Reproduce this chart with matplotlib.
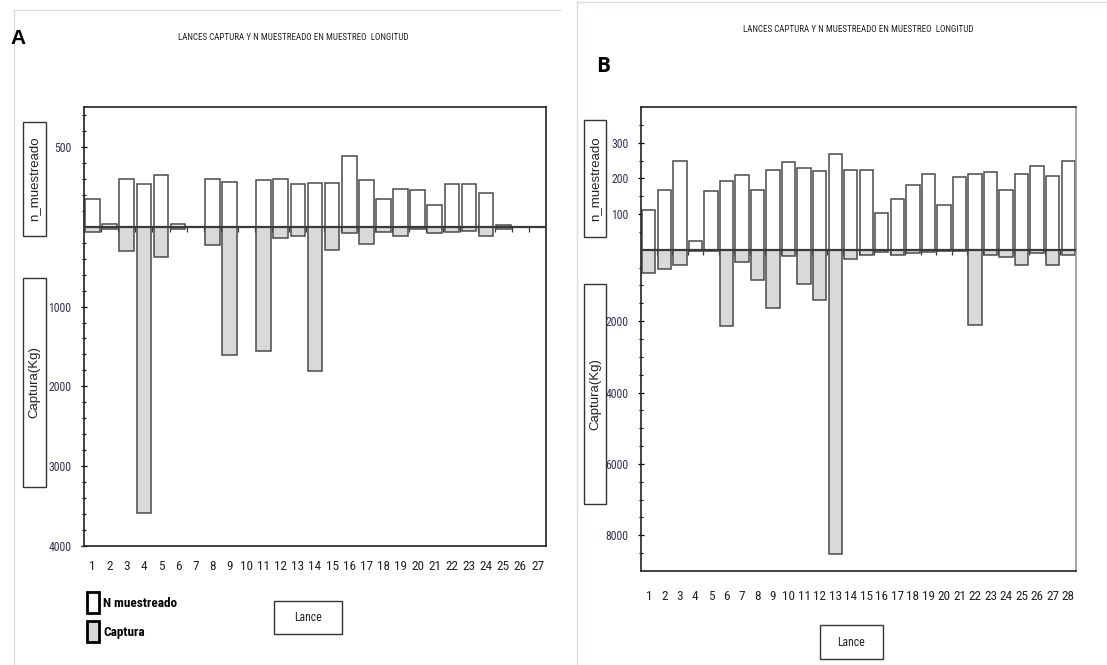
import numpy as np
import matplotlib
matplotlib.use("Agg")
import matplotlib.pyplot as plt
from matplotlib.patches import Rectangle, Patch
from matplotlib.lines import Line2D

NARROW = ['Liberation Sans Narrow', 'Roboto Condensed', 'Liberation Sans', 'DejaVu Sans']
plt.rcParams['font.family'] = NARROW

# ---- data ----
lance_a = np.arange(1, 28)
n_a = [174, 15, 298, 266, 326, 15, 0, 298, 283, 0, 291, 298, 266, 277, 277,
       443, 291, 174, 238, 230, 136, 266, 266, 213, 9, 0, 0]
cap_a = [63, 30, 305, 3585, 375, 30, 0, 230, 1606, 0, 1556, 138, 121, 1803, 290,
         75, 213, 63, 121, 30, 80, 63, 50, 121, 30, 0, 0]

lance_b = np.arange(1, 29)
n_b = [111, 168, 250, 24, 164, 192, 209, 168, 224, 246, 228, 222, 268, 224, 224,
       103, 143, 182, 213, 125, 203, 213, 218, 168, 213, 236, 207, 250]
cap_b = [648, 535, 423, 28, 28, 2130, 329, 854, 1634, 178, 958, 1399, 8530, 254, 141,
         75, 141, 103, 75, 28, 28, 2103, 141, 216, 432, 103, 432, 141]

titulo = "LANCES CAPTURA Y N MUESTREADO EN MUESTREO  LONGITUD"

W, H = 1107, 665
fig = plt.figure(figsize=(W / 100, H / 100), dpi=100)


def fx(x):
    return x / W


def fy(y):
    return 1 - y / H


def box_axes(l, t, r, b):
    return fig.add_axes([fx(l), fy(b), fx(r - l), (b - t) / H])


def panel(ax, lances, n_vals, cap_vals, factor, ytop, ybot, n_major, n_minor,
          c_major, c_minor, xpad, tickmark):
    x = np.asarray(lances)
    ax.bar(x, np.asarray(n_vals) * factor, width=0.86, color='white',
           edgecolor='#4a4a4a', lw=1.1, zorder=2)
    ax.bar(x, -np.asarray(cap_vals), width=0.86, color='#d9d9d9',
           edgecolor='#4a4a4a', lw=1.1, zorder=2)
    ax.axhline(0, color='#3a3a3a', lw=1.6, zorder=3)
    # small marks on the zero line at the category boundaries
    ax.vlines(x[:-1] + 0.5, -tickmark, 0, color='#3a3a3a', lw=0.9, zorder=1)
    ax.set_xlim(x[0] - 0.5, x[-1] + 0.5)
    ax.set_ylim(ybot, ytop)
    ax.set_xticks(x)
    ax.set_xticklabels([str(v) for v in x])
    ax.tick_params(axis='x', length=0, pad=xpad, labelsize=9.5, labelcolor='#222222')
    yt = [v * factor for v in n_major] + [-v for v in c_major]
    ax.set_yticks(yt)
    ax.set_yticklabels([str(v) for v in n_major] + [str(v) for v in c_major])
    ax.set_yticks([v * factor for v in n_minor] + [-v for v in c_minor], minor=True)
    ax.tick_params(axis='y', which='major', direction='inout', length=4, width=0.9,
                   pad=7, labelsize=8.5, labelcolor='#333355')
    ax.tick_params(axis='y', which='minor', direction='inout', length=3, width=0.8)
    for s in ax.spines.values():
        s.set_linewidth(1.2)
        s.set_color('#222222')


def label_box(l, t, r, b, text, size, rotation=0, weight='normal', family=None):
    fig.add_artist(Rectangle((fx(l), fy(b)), fx(r - l), (b - t) / H,
                             transform=fig.transFigure, fill=False,
                             edgecolor='#333333', lw=1.0))
    fig.text(fx((l + r) / 2), fy((t + b) / 2), text, rotation=rotation,
             ha='center', va='center', fontsize=size, weight=weight,
             family=family, color='#222222')


# ---- panel frames ----
fig.add_artist(Line2D([fx(14), fx(560)], [fy(10), fy(10)], color='#d8dee6', lw=1))
fig.add_artist(Line2D([fx(14), fx(14)], [fy(10), fy(665)], color='#d8dee6', lw=1))
fig.add_artist(Line2D([fx(577), fx(1107)], [fy(2), fy(2)], color='#d8dee6', lw=1))
fig.add_artist(Line2D([fx(577), fx(577)], [fy(2), fy(665)], color='#d8dee6', lw=1))

REG = ['Liberation Sans', 'DejaVu Sans']

# ---- panel A ----
ax_a = box_axes(84, 107, 546, 546)
panel(ax_a, lance_a, n_a, cap_a, 2, 1500, -4000,
      [500], list(range(100, 800, 100)),
      [1000, 2000, 3000, 4000], list(range(200, 4000, 200)),
      xpad=10, tickmark=65)
fig.text(fx(293), fy(37), titulo, ha='center', va='center', fontsize=6.5, color='#222222')
fig.text(fx(10), fy(38), "A", ha='left', va='center', fontsize=15, weight='bold',
         family=REG)
label_box(23, 122, 46, 236, "n_muestreado", 9.5, rotation=90, family=REG)
label_box(23, 278, 46, 487, "Captura(Kg)", 9.5, rotation=90, family=REG)
label_box(274, 601, 342, 634, "Lance", 8.5)

handles = [Patch(facecolor='white', edgecolor='black', lw=2),
           Patch(facecolor='#d9d9d9', edgecolor='black', lw=2)]
fig.legend(handles, ["N muestreado", "Captura"], loc='upper left',
           bbox_to_anchor=(fx(87), fy(592)), frameon=False, borderpad=0,
           borderaxespad=0, handlelength=0.9, handleheight=2.1,
           handletextpad=0.35, labelspacing=0.6,
           prop={'weight': 'bold', 'size': 9.5})

# ---- panel B ----
ax_b = box_axes(641, 107, 1076, 571)
panel(ax_b, lance_b, n_b, cap_b, 10, 4000, -9000,
      [100, 200, 300], [50, 150, 250, 350],
      [2000, 4000, 6000, 8000], list(range(500, 9000, 500)),
      xpad=14, tickmark=140)
ax_b.spines['right'].set_color('#999999')
fig.text(fx(858), fy(29), titulo, ha='center', va='center', fontsize=6.5, color='#222222')
fig.text(fx(596), fy(66), "B", ha='left', va='center', fontsize=15, weight='bold',
         family=['Open Sans', 'DejaVu Sans'])
label_box(584, 120, 606, 237, "n_muestreado", 9.5, rotation=90, family=REG)
label_box(584, 284, 606, 504, "Captura(Kg)", 9.5, rotation=90, family=REG)
label_box(820, 625, 883, 659, "Lance", 8.5)

fig.savefig("out.png", dpi=100)
